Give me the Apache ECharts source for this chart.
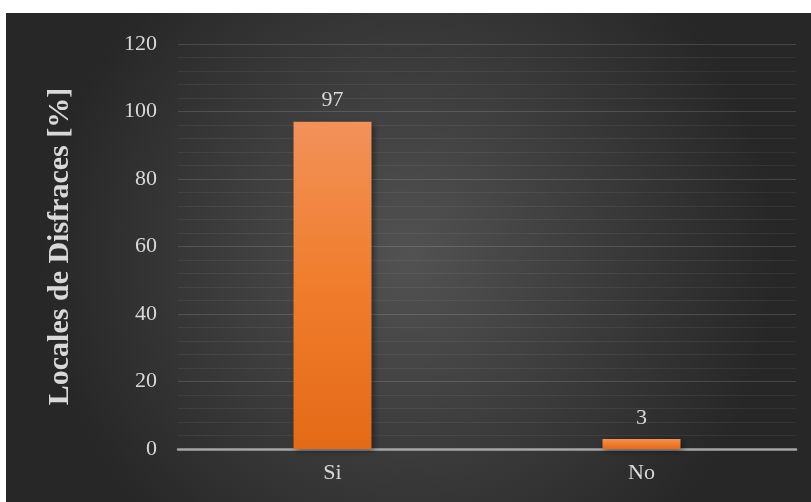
<!DOCTYPE html>
<html>
<head>
<meta charset="utf-8">
<script src="https://cdn.jsdelivr.net/npm/echarts@6/dist/echarts.min.js"></script>
<style>
  html, body { margin: 0; padding: 0; background: #ffffff; }
  #chart { position: absolute; left: 6px; top: 13px; width: 805px; height: 489px; }
</style>
</head>
<body>
<div id="chart"></div>
<script>
  // datos
  var categories = ['Si', 'No'];
  var values = [97, 3];
  var yTitle = 'Locales de Disfraces [%]';

  var myChart = echarts.init(document.getElementById('chart'));

  myChart.setOption({
    backgroundColor: {
      type: 'radial', x: 0.5, y: 0.5, r: 0.75,
      colorStops: [
        { offset: 0, color: '#525252' },
        { offset: 1, color: '#272727' }
      ]
    },
    grid: { left: 172, right: 15, top: 31, bottom: 53 },
    xAxis: {
      type: 'category',
      data: categories,
      axisTick: { show: false },
      axisLine: { lineStyle: { color: '#a6a6a6', width: 2.5 } },
      axisLabel: { color: '#d9d9d9', fontFamily: 'Liberation Serif', fontSize: 22, margin: 13 }
    },
    yAxis: {
      type: 'value',
      min: 0, max: 120, interval: 20,
      name: yTitle,
      nameLocation: 'middle',
      nameGap: 103,
      nameTextStyle: { color: '#d9d9d9', fontFamily: 'Liberation Serif', fontSize: 30, fontWeight: 'bold' },
      axisLine: { show: false },
      axisTick: { show: false },
      axisLabel: { color: '#d9d9d9', fontFamily: 'Liberation Serif', fontSize: 22, margin: 21 },
      splitLine: { lineStyle: { color: 'rgba(255,255,255,0.14)', width: 1 } },
      minorTick: { show: false, splitNumber: 5 },
      minorSplitLine: { show: true, lineStyle: { color: 'rgba(255,255,255,0.06)', width: 1 } }
    },
    series: [{
      type: 'bar',
      data: values,
      barWidth: 78,
      itemStyle: {
        color: {
          type: 'linear', x: 0, y: 0, x2: 0, y2: 1,
          colorStops: [
            { offset: 0, color: '#f29159' },
            { offset: 0.5, color: '#f07d2c' },
            { offset: 1, color: '#e46a17' }
          ]
        },
        shadowColor: 'rgba(0,0,0,0.45)',
        shadowBlur: 6,
        shadowOffsetX: 2,
        shadowOffsetY: 2
      },
      label: {
        show: true,
        position: 'top',
        distance: 10,
        color: '#d9d9d9',
        fontFamily: 'Liberation Serif',
        fontSize: 22
      }
    }]
  });
</script>
</body>
</html>
